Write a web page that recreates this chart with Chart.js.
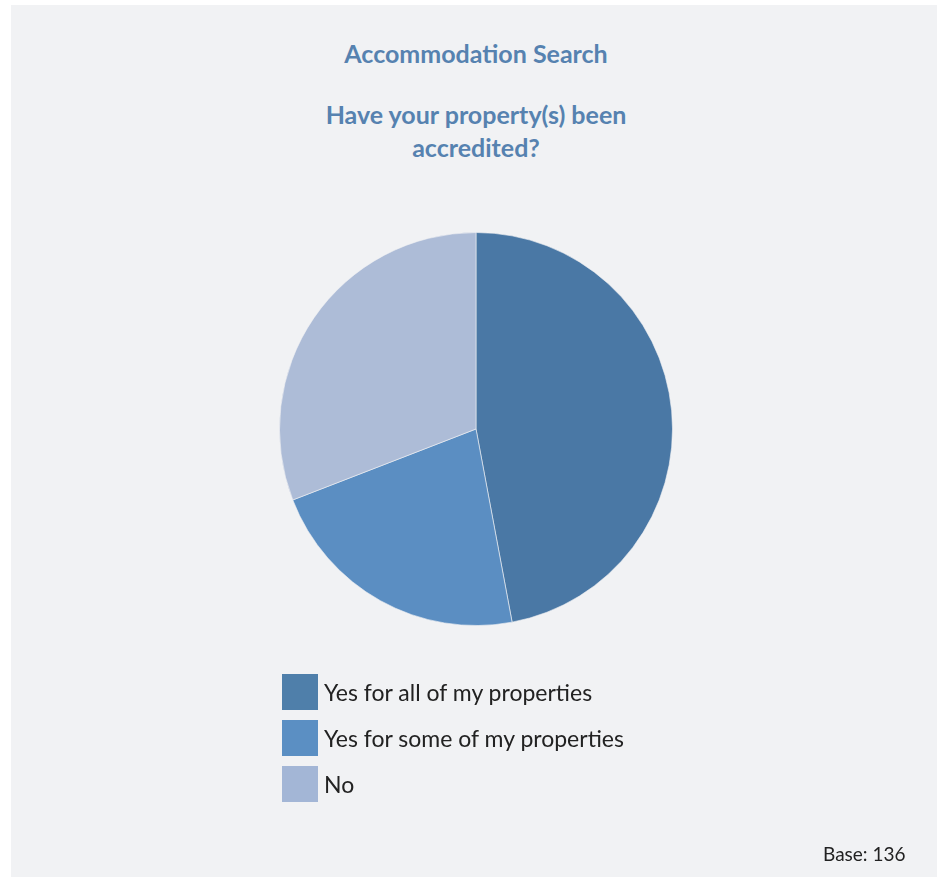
<!DOCTYPE html>
<html>
<head>
<meta charset="utf-8">
<script src="https://cdn.jsdelivr.net/npm/chart.js@4"></script>
<style>
  html, body { margin: 0; padding: 0; background: #fff; }
  body { width: 943px; height: 877px; position: relative; overflow: hidden; font-family: Lato, "Open Sans", sans-serif; }
  .panel { position: absolute; left: 11px; top: 5px; width: 926px; height: 872px; background: #f1f2f4; }
  #pie { position: absolute; left: 0; top: 0; }
  .title { position: absolute; left: 0; width: 952px; text-align: center; color: #5682b0; font-weight: bold; font-size: 25px; line-height: 33px; }
  .legend { position: absolute; left: 282px; top: 674px; }
  .legend .row { height: 36px; margin-bottom: 10px; display: flex; align-items: center; }
  .legend .sw { width: 36px; height: 36px; margin-right: 6px; }
  .legend .txt { font-size: 23px; color: #222; }
  .base { position: absolute; left: 823px; top: 842px; font-size: 19px; color: #222; }
</style>
</head>
<body>
<div class="panel"></div>
<div class="title" style="top:37px">Accommodation Search</div>
<div class="title" style="top:98px">Have your property(s) been<br>accredited?</div>
<canvas id="pie" width="943" height="877"></canvas>
<div class="legend" id="legend"></div>
<div class="base">Base: 136</div>
<script>
const answers = ['Yes for all of my properties', 'Yes for some of my properties', 'No'];
const counts = [64, 30, 42];
const sliceColors = ['#4a78a5', '#5b8ec2', '#adbcd7'];
const swatchColors = ['#4f7faa', '#5b8fc3', '#a3b6d6'];

const legendBox = document.getElementById('legend');
answers.forEach((a, i) => {
  const row = document.createElement('div');
  row.className = 'row';
  row.innerHTML = '<div class="sw" style="background:' + swatchColors[i] + '"></div><span class="txt">' + a + '</span>';
  legendBox.appendChild(row);
});

new Chart(document.getElementById('pie'), {
  type: 'pie',
  data: {
    labels: answers,
    datasets: [{
      data: counts,
      backgroundColor: sliceColors,
      borderColor: 'rgba(241,242,244,0.6)',
      borderWidth: 1
    }]
  },
  options: {
    responsive: false,
    animation: false,
    layout: { padding: { left: 279, right: 270, top: 232, bottom: 251 } },
    plugins: { legend: { display: false }, title: { display: false }, tooltip: { enabled: false } }
  }
});
</script>
</body>
</html>
